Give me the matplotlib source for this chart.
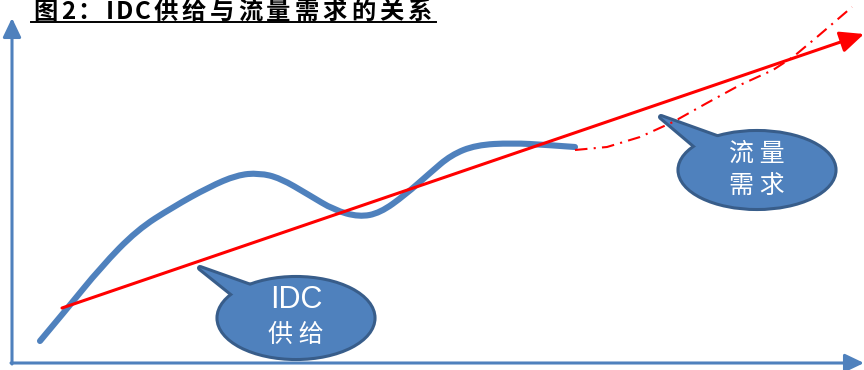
import matplotlib
matplotlib.use("Agg")
import matplotlib.pyplot as plt
from matplotlib.path import Path
from matplotlib.patches import PathPatch, Ellipse, Polygon, FancyArrowPatch

plt.rcParams['font.family'] = ['Noto Sans CJK SC', 'DejaVu Sans']

# canvas units: x to the right, y downwards (0..864 x 0..370)
title = "图2：IDC供给与流量需求的关系"

# traffic demand, observed part (thick blue curve)
demand_x = [40, 66, 101, 137, 173, 209, 237, 259, 280, 309, 334, 359, 380, 405, 430, 451, 476, 512, 548, 575]
demand_y = [341, 310, 267, 230, 207, 187, 175, 173, 178, 195, 210, 217, 213, 195, 173, 155, 145, 143, 145, 147]

# traffic demand, projected part (dash-dot)
forecast_x = [575, 607, 640, 673, 707, 740, 773, 793, 817, 852]
forecast_y = [150, 147, 137, 122, 103, 85, 70, 57, 37, 7]

# IDC supply trend (straight red arrow)
supply_x = [62, 864]
supply_y = [308, 34]

# callout bubbles: label lines, centre, size, pointer tip and base
callout_labels = [["IDC", "供 给"], ["流 量", "需 求"]]
callout_center = [(296, 318), (757, 170)]
callout_size = [(155, 80), (155, 76)]
callout_tip = [(200, 268), (661, 117)]
callout_base = [[(240, 300), (262, 290)], [(700, 150), (725, 140)]]

BLUE = '#4F81BD'
EDGE = '#385D8A'
RED = '#FF0000'

fig = plt.figure(figsize=(8.64, 3.70), dpi=100)
ax = fig.add_axes([0, 0, 1, 1])
ax.set_xlim(0, 864)
ax.set_ylim(370, 0)
ax.axis('off')

# axes arrows
for start, end in [((12, 364), (12, 18)), ((11, 363), (864, 363))]:
    ax.add_patch(FancyArrowPatch(start, end, arrowstyle='-|>,head_length=1.15,head_width=0.55',
                                 mutation_scale=10, lw=2.2, color=BLUE,
                                 shrinkA=0, shrinkB=0, zorder=2))

# callouts: outlined shapes first, fills on top hide the inner seams
for labels, c, (w, h), tip, base in zip(callout_labels, callout_center, callout_size,
                                         callout_tip, callout_base):
    pointer = [tip, base[0], base[1]]
    ax.add_patch(Ellipse(c, w, h, facecolor=BLUE, edgecolor=EDGE, lw=4.4, zorder=3))
    ax.add_patch(Polygon(pointer, closed=True, facecolor=BLUE, edgecolor=EDGE,
                         lw=4.4, joinstyle='round', zorder=3))
    ax.add_patch(Ellipse(c, w, h, facecolor=BLUE, edgecolor='none', zorder=4))
    ax.add_patch(Polygon(pointer, closed=True, facecolor=BLUE, edgecolor='none', zorder=4))

ax.text(296, 300, callout_labels[0][0], color='white', fontsize=22, ha='center', va='center',
        family=['Liberation Sans', 'Noto Sans CJK SC'], zorder=5)
ax.text(296, 335, callout_labels[0][1], color='white', fontsize=18, ha='center', va='center', zorder=5)
ax.text(757, 154, callout_labels[1][0], color='white', fontsize=18, ha='center', va='center', zorder=5)
ax.text(757, 186, callout_labels[1][1], color='white', fontsize=18, ha='center', va='center', zorder=5)

# smooth blue curve: quadratic B-spline through the sampled points
pts = list(zip(demand_x, demand_y))
verts = [pts[0]]
codes = [Path.MOVETO]
for i in range(1, len(pts) - 2):
    mid = ((pts[i][0] + pts[i + 1][0]) / 2, (pts[i][1] + pts[i + 1][1]) / 2)
    verts += [pts[i], mid]
    codes += [Path.CURVE3, Path.CURVE3]
verts += [pts[-2], pts[-1]]
codes += [Path.CURVE3, Path.CURVE3]
ax.add_patch(PathPatch(Path(verts, codes), fill=False, edgecolor=BLUE, lw=4.4,
                       capstyle='round', joinstyle='round', zorder=6))

ax.plot(forecast_x, forecast_y, color=RED, lw=1.5, linestyle=(0, (6, 3, 1, 3)), zorder=7)

ax.add_patch(FancyArrowPatch((supply_x[0], supply_y[0]), (supply_x[1], supply_y[1]),
                             arrowstyle='-|>,head_length=1.45,head_width=0.65',
                             mutation_scale=10, lw=2.2, color=RED,
                             shrinkA=0, shrinkB=0, zorder=8))

# bold title, set one character at a time with a little tracking, then underlined
renderer = fig.canvas.get_renderer()
to_data = ax.transData.inverted()
x = 33
for ch in title:
    t = ax.text(x, 19, ch, fontsize=17.5, fontweight='bold', ha='left', va='baseline', zorder=9)
    bb = t.get_window_extent(renderer)
    x = to_data.transform((bb.x1, 0))[0] + (4 if ord(ch) > 0x2000 else 2)
ax.plot([31, x], [22, 22], color='black', lw=1.4, zorder=9)

fig.savefig('out.png', dpi=100)
